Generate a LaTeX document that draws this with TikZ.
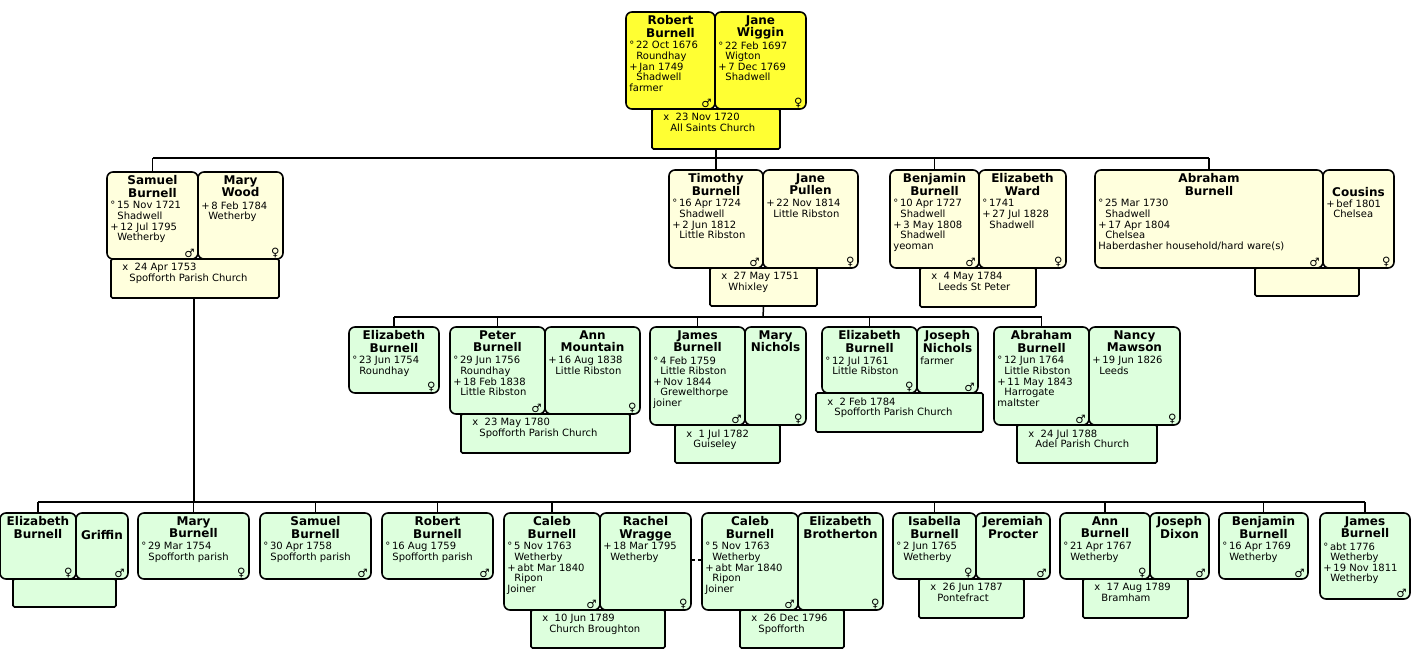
\documentclass[tikz,border=0pt]{standalone}
\usepackage{fontspec}
\setmainfont{DejaVu Sans}
\usetikzlibrary{fit}
\definecolor{yA}{HTML}{FFFF33}
\definecolor{yB}{HTML}{FFFFDD}
\definecolor{gA}{HTML}{DDFFDD}
\newcommand\ii{\hspace*{7pt}}
\tikzset{
  pbox/.style={draw=black,line width=1.6pt,rounded corners=6pt,inner sep=0pt},
  mbox/.style={draw=black,line width=1.6pt,rounded corners=1.5pt,inner sep=0pt},
  ttl/.style={font=\fontsize{12}{12.6}\selectfont\bfseries,align=center,inner sep=0pt},
  det/.style={font=\fontsize{10}{10.6}\selectfont,align=left,inner sep=0pt},
  sx/.style={font=\fontsize{11.5}{11.5}\selectfont,inner sep=2pt},
  conn/.style={line width=1.5pt}
}
% name, (x1,y1), (x2,y2), fill, title, details, sex
\newcommand\pers[7]{%
  \node[pbox,fill=#4,fit={#2 #3}] (#1) {};
  \node[ttl,anchor=north] at ([yshift=-4pt]#1.north) {#5};
  \node[det,anchor=north west] at ([xshift=4pt,yshift=-30pt]#1.north west) {#6};
  \node[sx,anchor=south east] at ([xshift=-2pt]#1.south east) {#7};
}
% name, (x1,y1), (x2,y2), fill, text
\newcommand\marr[5]{%
  \node[mbox,fill=#4,fit={#2 #3}] (#1) {};
  \node[det,anchor=north west] at ([xshift=12pt,yshift=-5pt]#1.north west) {#5};
}
\begin{document}
\begin{tikzpicture}[x=1pt,y=-1pt]
\useasboundingbox (0,0) rectangle (1419,659);
% ---- generation 1
\pers{rb}{(626,12)}{(715,109)}{yA}{Robert\\Burnell}{°\,22 Oct 1676\\\ii Roundhay\\+\,Jan 1749\\\ii Shadwell\\farmer}{♂}
\pers{jw}{(715,12)}{(806,109)}{yA}{Jane\\Wiggin}{°\,22 Feb 1697\\\ii Wigton\\+\,7 Dec 1769\\\ii Shadwell}{♀}
\marr{m1}{(652,109)}{(780,149)}{yA}{x\ \ 23 Nov 1720\\\ii All Saints Church}
% ---- generation 2
\pers{sb}{(107,172)}{(198,259)}{yB}{Samuel\\Burnell}{°\,15 Nov 1721\\\ii Shadwell\\+\,12 Jul 1795\\\ii Wetherby}{♂}
\pers{mw}{(198,172)}{(283,259)}{yB}{Mary\\Wood}{+\,8 Feb 1784\\\ii Wetherby}{♀}
\marr{m2}{(111,259)}{(279,298)}{yB}{x\ \ 24 Apr 1753\\\ii Spofforth Parish Church}
\pers{tb}{(669,170)}{(763,268)}{yB}{Timothy\\Burnell}{°\,16 Apr 1724\\\ii Shadwell\\+\,2 Jun 1812\\\ii Little Ribston}{♂}
\pers{jp}{(763,170)}{(858,268)}{yB}{Jane\\Pullen}{+\,22 Nov 1814\\\ii Little Ribston}{♀}
\marr{m3}{(710,268)}{(817,306)}{yB}{x\ \ 27 May 1751\\\ii Whixley}
\pers{bb}{(890,170)}{(979,268)}{yB}{Benjamin\\Burnell}{°\,10 Apr 1727\\\ii Shadwell\\+\,3 May 1808\\\ii Shadwell\\yeoman}{♂}
\pers{ew}{(979,170)}{(1066,268)}{yB}{Elizabeth\\Ward}{°\,1741\\+\,27 Jul 1828\\\ii Shadwell}{♀}
\marr{m4}{(920,268)}{(1036,307)}{yB}{x\ \ 4 May 1784\\\ii Leeds St Peter}
\pers{ab}{(1095,170)}{(1323,268)}{yB}{Abraham\\Burnell}{°\,25 Mar 1730\\\ii Shadwell\\+\,17 Apr 1804\\\ii Chelsea\\Haberdasher household/hard ware(s)}{♂}
\pers{co}{(1323,170)}{(1394,268)}{yB}{\strut\\Cousins}{+\,bef 1801\\\ii Chelsea}{♀}
\marr{m5}{(1255,268)}{(1359,296)}{yB}{}
% ---- generation 3
\pers{eb1}{(349,327)}{(439,393)}{gA}{Elizabeth\\Burnell}{°\,23 Jun 1754\\\ii Roundhay}{♀}
\pers{pb}{(450,327)}{(545,414)}{gA}{Peter\\Burnell}{°\,29 Jun 1756\\\ii Roundhay\\+\,18 Feb 1838\\\ii Little Ribston}{♂}
\pers{am}{(545,327)}{(640,414)}{gA}{Ann\\Mountain}{+\,16 Aug 1838\\\ii Little Ribston}{♀}
\marr{m6}{(461,414)}{(630,453)}{gA}{x\ \ 23 May 1780\\\ii Spofforth Parish Church}
\pers{jb}{(650,327)}{(745,425)}{gA}{James\\Burnell}{°\,4 Feb 1759\\\ii Little Ribston\\+\,Nov 1844\\\ii Grewelthorpe\\joiner}{♂}
\pers{mn}{(745,327)}{(806,425)}{gA}{Mary\\Nichols}{}{♀}
\marr{m7}{(675,425)}{(780,463)}{gA}{x\ \ 1 Jul 1782\\\ii Guiseley}
\pers{eb2}{(822,327)}{(917,393)}{gA}{Elizabeth\\Burnell}{°\,12 Jul 1761\\\ii Little Ribston}{♀}
\pers{jn}{(917,327)}{(978,393)}{gA}{Joseph\\Nichols}{farmer}{♂}
\marr{m8}{(816,393)}{(983,432)}{gA}{x\ \ 2 Feb 1784\\\ii Spofforth Parish Church}
\pers{ab2}{(994,327)}{(1089,425)}{gA}{Abraham\\Burnell}{°\,12 Jun 1764\\\ii Little Ribston\\+\,11 May 1843\\\ii Harrogate\\maltster}{♂}
\pers{nm}{(1089,327)}{(1180,425)}{gA}{Nancy\\Mawson}{+\,19 Jun 1826\\\ii Leeds}{♀}
\marr{m9}{(1017,425)}{(1157,463)}{gA}{x\ \ 24 Jul 1788\\\ii Adel Parish Church}
% ---- generation 4
\pers{eb3}{(0,513)}{(76,579)}{gA}{Elizabeth\\Burnell}{}{♀}
\pers{gr}{(76,513)}{(128,579)}{gA}{\strut\\Griffin}{}{♂}
\marr{m10}{(13,579)}{(116,607)}{gA}{}
\pers{mb}{(138,513)}{(249,579)}{gA}{Mary\\Burnell}{°\,29 Mar 1754\\\ii Spofforth parish}{♀}
\pers{sb2}{(260,513)}{(371,579)}{gA}{Samuel\\Burnell}{°\,30 Apr 1758\\\ii Spofforth parish}{♂}
\pers{rb2}{(382,513)}{(493,579)}{gA}{Robert\\Burnell}{°\,16 Aug 1759\\\ii Spofforth parish}{♂}
\pers{cb}{(504,513)}{(600,610)}{gA}{Caleb\\Burnell}{°\,5 Nov 1763\\\ii Wetherby\\+\,abt Mar 1840\\\ii Ripon\\Joiner}{♂}
\pers{rw}{(600,513)}{(691,610)}{gA}{Rachel\\Wragge}{+\,18 Mar 1795\\\ii Wetherby}{♀}
\marr{m11}{(531,610)}{(665,648)}{gA}{x\ \ 10 Jun 1789\\\ii Church Broughton}
\pers{cb2}{(702,513)}{(798,610)}{gA}{Caleb\\Burnell}{°\,5 Nov 1763\\\ii Wetherby\\+\,abt Mar 1840\\\ii Ripon\\Joiner}{♂}
\pers{ebr}{(798,513)}{(883,610)}{gA}{Elizabeth\\Brotherton}{}{♀}
\marr{m12}{(740,610)}{(844,648)}{gA}{x\ \ 26 Dec 1796\\\ii Spofforth}
\pers{ib}{(893,513)}{(976,579)}{gA}{Isabella\\Burnell}{°\,2 Jun 1765\\\ii Wetherby}{♀}
\pers{jpr}{(976,513)}{(1050,579)}{gA}{Jeremiah\\Procter}{}{♂}
\marr{m13}{(919,579)}{(1024,618)}{gA}{x\ \ 26 Jun 1787\\\ii Pontefract}
\pers{anb}{(1060,513)}{(1150,579)}{gA}{Ann\\Burnell}{°\,21 Apr 1767\\\ii Wetherby}{♀}
\pers{jd}{(1150,513)}{(1209,579)}{gA}{Joseph\\Dixon}{}{♂}
\marr{m14}{(1083,579)}{(1188,618)}{gA}{x\ \ 17 Aug 1789\\\ii Bramham}
\pers{bb2}{(1219,513)}{(1308,579)}{gA}{Benjamin\\Burnell}{°\,16 Apr 1769\\\ii Wetherby}{♂}
\pers{jb2}{(1320,513)}{(1410,599)}{gA}{James\\Burnell}{°\,abt 1776\\\ii Wetherby\\+\,19 Nov 1811\\\ii Wetherby}{♂}
% ---- connectors
\coordinate (bus1) at (716,158);
\draw[conn] (m1.south) -- (bus1);
\draw[conn] (sb.north |- bus1) -- (ab.north |- bus1);
\foreach \n in {sb,tb,bb,ab} \draw[conn] (\n.north) -- (\n.north |- bus1);
\coordinate (bus2) at (763,317);
\draw[conn] (m3.south) -- (bus2);
\draw[conn] (eb1.north |- bus2) -- (ab2.north |- bus2);
\foreach \n in {eb1,pb,jb,eb2,ab2} \draw[conn] (\n.north) -- (\n.north |- bus2);
\coordinate (bus3) at (194,502);
\draw[conn] (m2.south -| bus3) -- (bus3);
\draw[conn] (eb3.north |- bus3) -- (jb2.north |- bus3);
\foreach \n in {eb3,mb,sb2,rb2,cb,ib,anb,bb2,jb2} \draw[conn] (\n.north) -- (\n.north |- bus3);
\draw[conn,dashed,dash pattern=on 3pt off 3pt] (rw.east |- 0,560) -- (cb2.west |- 0,560);
\end{tikzpicture}
\end{document}
